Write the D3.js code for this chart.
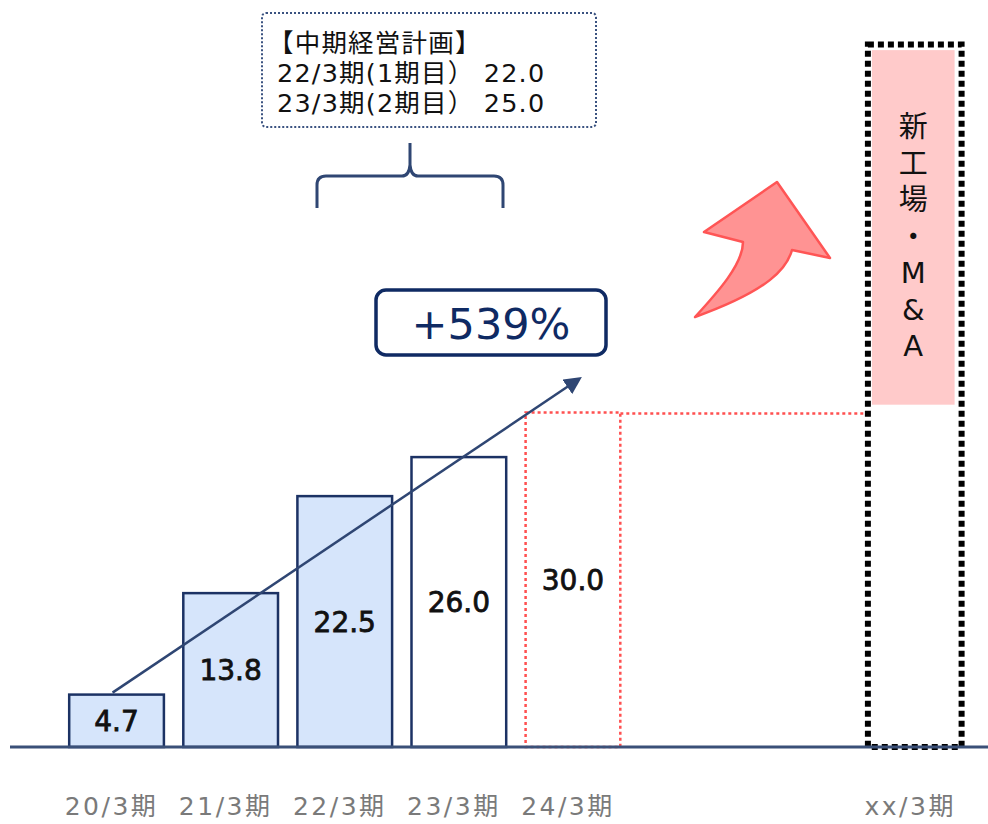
<!DOCTYPE html>
<html><head><meta charset="utf-8">
<script src="https://cdn.jsdelivr.net/npm/d3@7"></script>
<style>
html,body{margin:0;padding:0;background:#fff;}
svg{display:block;font-family:"DejaVu Sans","Noto Sans CJK JP",sans-serif;}
</style></head>
<body>
<svg id="chart" width="988" height="824"></svg>
<script>
// ---- data ----
const categories = ["20/3期","21/3期","22/3期","23/3期","24/3期","_gap1","_gap2","xx/3期"];
const values = [4.7, 13.8, 22.5, 26.0, 30.0];
const valueLabels = ["4.7","13.8","22.5","26.0","30.0"];
const barKinds = ["actual","actual","actual","plan","target"];
const growthLabel = "+539%";
const planLines = ["【中期経営計画】","22/3期(1期目）  22.0","23/3期(2期目）  25.0"];
const futureLabel = ["新","工","場","・","M","&","A"];
const futureTop = 63;      // top of the dotted future box (value units)
const futurePinkTop = 62.5;
const futurePinkBottom = 30.7;
const trendEndValue = 33;

const svg = d3.select("#chart");
const baseY = 747;
const x = d3.scaleBand().domain(categories)
  .range([59.5, 59.5 + 114.1 * categories.length])
  .paddingInner(0.17).paddingOuter(0.085);
const y = d3.scaleLinear().domain([0, 60]).range([baseY, baseY - 60 * 11.15]);

const navy = "#1c3264";
const defs = svg.append("defs");
defs.append("marker").attr("id","arr").attr("viewBox","0 0 10 10")
  .attr("refX",8).attr("refY",5).attr("markerWidth",7).attr("markerHeight",7)
  .attr("orient","auto")
  .append("path").attr("d","M0,0 L10,5 L0,10 Z").attr("fill","#2f4673");

// future box (xx/3期)
const fx = x("xx/3期"), fw = x.bandwidth();
svg.append("rect").attr("x", fx + 4).attr("y", y(futurePinkTop))
  .attr("width", fw - 12).attr("height", y(futurePinkBottom) - y(futurePinkTop))
  .attr("fill", "#ffcaca");
svg.append("rect").attr("x", fx).attr("y", y(futureTop))
  .attr("width", fw - 1).attr("height", baseY - y(futureTop))
  .attr("fill","none").attr("stroke","#000").attr("stroke-width",6)
  .attr("stroke-dasharray","6,4");
svg.append("g").selectAll("text").data(futureLabel).join("text")
  .attr("x", fx + fw/2 - 2).attr("y", (d,i) => 137 + i * 36.5)
  .attr("text-anchor","middle").attr("font-size",29).attr("fill","#111")
  .text(d => d);

// red dotted connector at target level
svg.append("line")
  .attr("x1", x("24/3期") + x.bandwidth()).attr("x2", fx - 3)
  .attr("y1", y(values[4]) + 1).attr("y2", y(values[4]) + 1)
  .attr("stroke","#ff5050").attr("stroke-width",2.5).attr("stroke-dasharray","3,3");

// bars
svg.append("g").selectAll("rect").data(values).join("rect")
  .attr("x", (d,i) => x(categories[i]))
  .attr("y", d => y(d))
  .attr("width", x.bandwidth())
  .attr("height", d => baseY - y(d))
  .attr("fill", (d,i) => barKinds[i] === "actual" ? "#d6e5fb" : "#fff")
  .attr("stroke", (d,i) => barKinds[i] === "target" ? "#ff5050" : navy)
  .attr("stroke-width", 2.5)
  .attr("stroke-dasharray", (d,i) => barKinds[i] === "target" ? "3,3" : null);

svg.append("g").selectAll("text").data(values).join("text")
  .attr("x", (d,i) => x(categories[i]) + x.bandwidth()/2)
  .attr("y", d => (y(d) + baseY)/2 + 10)
  .attr("text-anchor","middle").attr("font-size",28)
  .attr("fill","#111").attr("stroke","#111").attr("stroke-width",0.8)
  .text((d,i) => valueLabels[i]);

// baseline
svg.append("line").attr("x1",10).attr("x2",988).attr("y1",baseY).attr("y2",baseY)
  .attr("stroke","#3a5078").attr("stroke-width",3);

// category labels
svg.append("g").selectAll("text").data(categories.filter(c => !c.startsWith("_"))).join("text")
  .attr("x", d => x(d) + x.bandwidth()/2 - 5)
  .attr("y", 815)
  .attr("text-anchor","middle").attr("font-size",25).attr("fill","#7a7a7a")
  .attr("letter-spacing", 2.5)
  .text(d => d);

// trend arrow
svg.append("line")
  .attr("x1", x(categories[0]) + x.bandwidth()/2 - 4).attr("y1", y(values[0]) - 2)
  .attr("x2", x("24/3期") + x.bandwidth()/2 + 6).attr("y2", y(trendEndValue))
  .attr("stroke","#2f4673").attr("stroke-width",2.5).attr("marker-end","url(#arr)");

// growth label box
svg.append("rect").attr("x",376).attr("y",290).attr("width",230).attr("height",65)
  .attr("rx",10).attr("fill","#fff").attr("stroke","#0f2a63").attr("stroke-width",3.5);
svg.append("text").attr("x",491).attr("y",339).attr("text-anchor","middle")
  .attr("font-size",43).attr("font-weight",400).attr("fill","#0f2a63").text(growthLabel);

// brace
svg.append("path")
  .attr("d","M317,208 L317,185 Q317,176 326,176 L402,176 Q409,176 410,165 L410,143 M410,165 Q411,176 418,176 L494,176 Q503,176 503,185 L503,208")
  .attr("fill","none").attr("stroke","#2f4673").attr("stroke-width",3);

// plan box
svg.append("rect").attr("x",262).attr("y",13).attr("width",334).attr("height",114)
  .attr("rx",4).attr("fill","none").attr("stroke","#3a5280").attr("stroke-width",2)
  .attr("stroke-dasharray","2,2");
svg.append("g").selectAll("text").data(planLines).join("text")
  .attr("x", (d,i) => i === 0 ? 268 : 277).attr("y", (d,i) => 52 + i * 30)
  .attr("font-size",25.5).attr("fill","#111").attr("letter-spacing",1.2)
  .text(d => d);

// red curved arrow
svg.append("path")
  .attr("d","M695,317 C718,292 743,264 743,242 L704,232 L777,182 L830,258 L792,250 C787,268 770,290 695,317 Z")
  .attr("fill","#ff9393").attr("stroke","#ff5555").attr("stroke-width",2.5)
  .attr("stroke-linejoin","round");
</script>
</body></html>
